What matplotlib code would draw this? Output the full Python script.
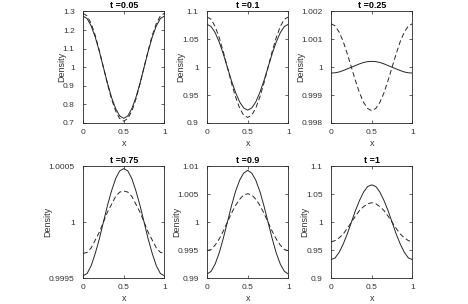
import matplotlib
matplotlib.use("Agg")
import matplotlib.pyplot as plt

plt.rcParams['font.family'] = ['Liberation Sans', 'DejaVu Sans']

x = [0.0, 0.05, 0.1, 0.15, 0.2, 0.25, 0.3, 0.35, 0.4, 0.45, 0.5,
     0.55, 0.6, 0.65, 0.7, 0.75, 0.8, 0.85, 0.9, 0.95, 1.0]

titles = ['t =0.05', 't =0.1', 't =0.25', 't =0.75', 't =0.9', 't =1']

solid_005 = [1.275, 1.262, 1.222, 1.162, 1.085, 1.000, 0.915, 0.838, 0.778, 0.738, 0.725,
             0.738, 0.778, 0.838, 0.915, 1.000, 1.085, 1.162, 1.222, 1.262, 1.275]
dashed_005 = [1.290, 1.276, 1.235, 1.171, 1.090, 1.000, 0.910, 0.829, 0.765, 0.724, 0.710,
              0.724, 0.765, 0.829, 0.910, 1.000, 1.090, 1.171, 1.235, 1.276, 1.290]

solid_01 = [1.077, 1.073, 1.062, 1.045, 1.024, 1.000, 0.976, 0.955, 0.938, 0.927, 0.923,
            0.927, 0.938, 0.955, 0.976, 1.000, 1.024, 1.045, 1.062, 1.073, 1.077]
dashed_01 = [1.090, 1.086, 1.073, 1.053, 1.028, 1.000, 0.972, 0.947, 0.927, 0.914, 0.910,
             0.914, 0.927, 0.947, 0.972, 1.000, 1.028, 1.053, 1.073, 1.086, 1.090]

solid_025 = [0.99979, 0.99980, 0.99983, 0.99988, 0.99994, 1.00000, 1.00006, 1.00012, 1.00017, 1.00020, 1.00021,
             1.00020, 1.00017, 1.00012, 1.00006, 1.00000, 0.99994, 0.99988, 0.99983, 0.99980, 0.99979]
dashed_025 = [1.00156, 1.00148, 1.00126, 1.00092, 1.00048, 1.00000, 0.99952, 0.99908, 0.99874, 0.99852, 0.99844,
              0.99852, 0.99874, 0.99908, 0.99952, 1.00000, 1.00048, 1.00092, 1.00126, 1.00148, 1.00156]

solid_075 = [0.99952, 0.99954, 0.99961, 0.99972, 0.99985, 1.00000, 1.00015, 1.00028, 1.00039, 1.00046, 1.00048,
             1.00046, 1.00039, 1.00028, 1.00015, 1.00000, 0.99985, 0.99972, 0.99961, 0.99954, 0.99952]
dashed_075 = [0.99972, 0.99973, 0.99977, 0.99984, 0.99991, 1.00000, 1.00009, 1.00016, 1.00023, 1.00027, 1.00028,
              1.00027, 1.00023, 1.00016, 1.00009, 1.00000, 0.99991, 0.99984, 0.99977, 0.99973, 0.99972]

solid_09 = [0.9907, 0.9912, 0.9925, 0.9945, 0.9971, 1.0000, 1.0029, 1.0055, 1.0075, 1.0088, 1.0093,
            1.0088, 1.0075, 1.0055, 1.0029, 1.0000, 0.9971, 0.9945, 0.9925, 0.9912, 0.9907]
dashed_09 = [0.9949, 0.9951, 0.9959, 0.9970, 0.9984, 1.0000, 1.0016, 1.0030, 1.0041, 1.0049, 1.0051,
             1.0049, 1.0041, 1.0030, 1.0016, 1.0000, 0.9984, 0.9970, 0.9959, 0.9951, 0.9949]

solid_1 = [0.933, 0.936, 0.946, 0.961, 0.979, 1.000, 1.021, 1.039, 1.054, 1.064, 1.067,
           1.064, 1.054, 1.039, 1.021, 1.000, 0.979, 0.961, 0.946, 0.936, 0.933]
dashed_1 = [0.965, 0.967, 0.972, 0.979, 0.989, 1.000, 1.011, 1.021, 1.028, 1.033, 1.035,
            1.033, 1.028, 1.021, 1.011, 1.000, 0.989, 0.979, 0.972, 0.967, 0.965]

solids = [solid_005, solid_01, solid_025, solid_075, solid_09, solid_1]
dasheds = [dashed_005, dashed_01, dashed_025, dashed_075, dashed_09, dashed_1]

ylims = [(0.7, 1.3), (0.9, 1.1), (0.998, 1.002), (0.9995, 1.0005), (0.99, 1.01), (0.9, 1.1)]
yticks = [[0.7, 0.8, 0.9, 1.0, 1.1, 1.2, 1.3],
          [0.9, 0.95, 1.0, 1.05, 1.1],
          [0.998, 0.999, 1.0, 1.001, 1.002],
          [0.9995, 1.0, 1.0005],
          [0.99, 0.995, 1.0, 1.005, 1.01],
          [0.9, 0.95, 1.0, 1.05, 1.1]]
ytick_labels = [['0.7', '0.8', '0.9', '1', '1.1', '1.2', '1.3'],
                ['0.9', '0.95', '1', '1.05', '1.1'],
                ['0.998', '0.999', '1', '1.001', '1.002'],
                ['0.9995', '1', '1.0005'],
                ['0.99', '0.995', '1', '1.005', '1.01'],
                ['0.9', '0.95', '1', '1.05', '1.1']]

fig = plt.figure(figsize=(4.68, 3.04), dpi=100)

lefts = [0.1774, 0.4423, 0.7073]
bottoms = [0.5954, 0.0855]
w, h = 0.174, 0.367

axcol = '#262626'
txtcol = '#333333'
for i in range(6):
    r, c = divmod(i, 3)
    ax = fig.add_axes([lefts[c], bottoms[r], w, h])
    ax.plot(x, solids[i], color='#262626', lw=0.7)
    ax.plot(x, dasheds[i], color='#262626', lw=0.7, dashes=(5, 3))
    ax.set_xlim(0, 1)
    ax.set_ylim(*ylims[i])
    ax.set_xticks([0, 0.5, 1], ['0', '0.5', '1'])
    ax.set_yticks(yticks[i], ytick_labels[i])
    ax.tick_params(direction='in', length=2, width=0.5, labelsize=6,
                   colors=axcol, labelcolor=txtcol, top=True, right=True)
    ax.tick_params(axis='y', pad=6)
    ax.tick_params(axis='x', pad=4)
    for s in ax.spines.values():
        s.set_linewidth(0.6)
        s.set_color(axcol)
    ax.set_title(titles[i], fontsize=6.5, fontweight='bold', pad=2.5)
    ax.set_xlabel('x', fontsize=6.5, color=txtcol, labelpad=2.5)
    ax.set_ylabel('Density', fontsize=6.5, color=txtcol, labelpad=-2.5)

fig.savefig('out.png', dpi=100)
